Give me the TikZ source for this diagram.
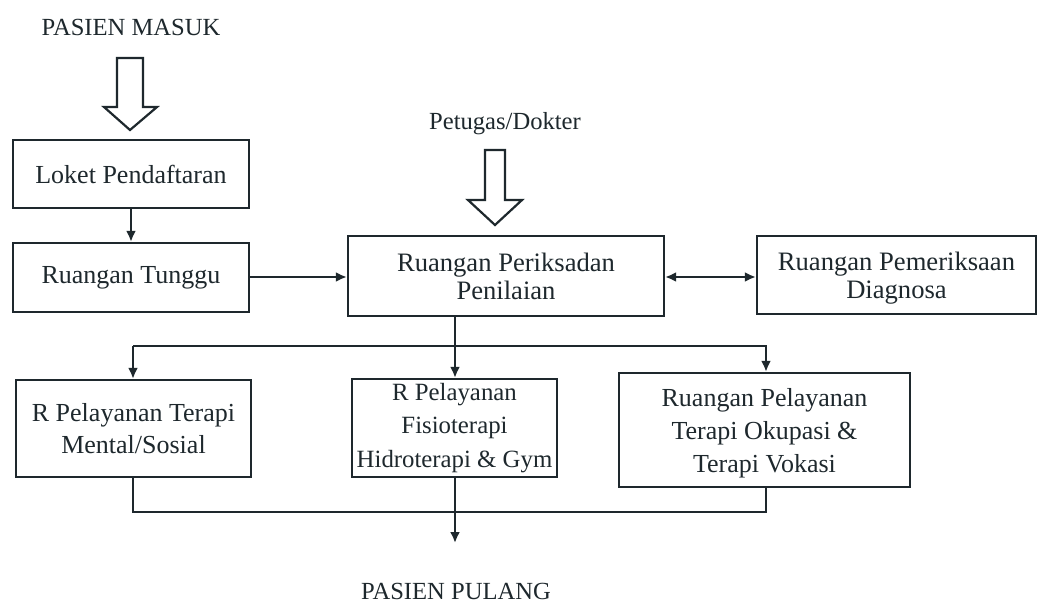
\documentclass[tikz,border=0pt]{standalone}
\usepackage{fontspec}
\setmainfont{Liberation Serif}
\usetikzlibrary{arrows.meta}
\definecolor{ink}{RGB}{30,40,45}
\begin{document}
\begin{tikzpicture}[x=0.5pt,y=-0.5pt,
  box/.style={draw=ink,line width=1.15pt,rectangle,inner sep=0pt,align=center,
    text=ink,font=\fontsize{13}{16}\selectfont},
  lbl/.style={text=ink,inner sep=0pt,font=\fontsize{12.3}{14}\selectfont},
  link/.style={draw=ink,line width=1.15pt},
  tip/.style={-{Latex[length=5.5pt,width=5pt]}},
  arr/.style={link,tip},
  fat/.style={draw=ink,line width=1.1pt,fill=white,line join=miter}]
\useasboundingbox[fill=white] (0,0) rectangle (1039,604);

% labels outside the boxes
\node[lbl] (masuk) at (131,27) {PASIEN MASUK};
\node[lbl] (petugas) at (505,124) {Petugas/Dokter};
\node[lbl] (pulang) at (456,591) {PASIEN PULANG};

% hollow block arrows
\draw[fat] (117,58) -- (143,58) -- (143,107) -- (157,107) -- (130,130)
  -- (104,107) -- (117,107) -- cycle;
\draw[fat] (485,150) -- (505,150) -- (505,200) -- (522,200) -- (495,225)
  -- (468,200) -- (485,200) -- cycle;

% rooms
\node[box,minimum width=118pt,minimum height=34pt] (loket) at (131,174)
  {Loket Pendaftaran};
\node[box,minimum width=118pt,minimum height=34.5pt] (tunggu) at (131,277.5)
  {Ruangan Tunggu};
\node[box,minimum width=158pt,minimum height=40pt,
  font=\fontsize{13.3}{14}\selectfont] (periksa) at (506,276)
  {Ruangan Periksadan\\Penilaian};
\node[box,minimum width=139.5pt,minimum height=39pt,
  font=\fontsize{13.3}{14}\selectfont] (diag) at (896.5,275)
  {\rule{0pt}{12pt}Ruangan Pemeriksaan\\Diagnosa};
\node[box,minimum width=117.5pt,minimum height=48.5pt] (mental) at (133.5,428.5)
  {R Pelayanan Terapi\\Mental/Sosial};
\node[box,minimum width=102.5pt,minimum height=49pt,
  font=\fontsize{12.4}{16.8}\selectfont] (fisio) at (454.5,428)
  {R Pelayanan\\Fisioterapi\\Hidroterapi \& Gym};
\node[box,minimum width=145.5pt,minimum height=57pt,
  font=\fontsize{13}{16.5}\selectfont] (okup) at (764.5,430)
  {\rule{0pt}{12pt}Ruangan Pelayanan\\Terapi Okupasi \&\\Terapi Vokasi};

% junction points
\coordinate (split) at (455,346);
\coordinate (splitL) at (133,346);
\coordinate (splitR) at (766,346);
\coordinate (joinL) at (133,512);
\coordinate (joinR) at (766,512);
\coordinate (exit) at (455,543);

% connectors
\draw[arr] (loket) -- (tunggu);
\draw[arr] (tunggu.east |- 0,277) -- (periksa.west |- 0,277);
\draw[link,{Latex[length=5.5pt,width=5pt]}-{Latex[length=5.5pt,width=5pt]}]
  (periksa.east |- 0,277) -- (diag.west |- 0,277);
\draw[link] (split |- periksa.south) -- (split);
\draw[arr] (splitL) -- (splitR) -- (splitR |- okup.north);
\draw[arr] (splitL) -- (splitL |- mental.north);
\draw[arr] (split) -- (split |- fisio.north);
\draw[link] (joinL |- mental.south) -- (joinL) -- (joinR) -- (joinR |- okup.south);
\draw[arr] (exit |- fisio.south) -- (exit);
\end{tikzpicture}
\end{document}
